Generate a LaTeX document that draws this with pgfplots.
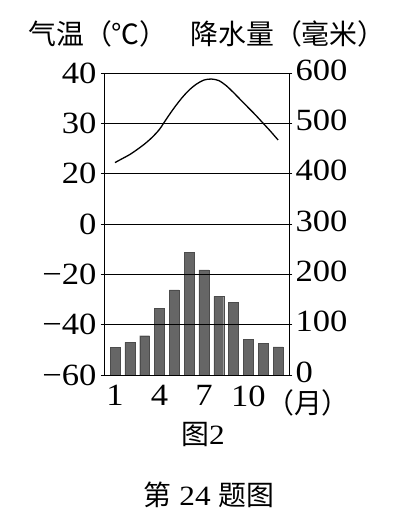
\documentclass[border=0pt]{standalone}
\usepackage{fontspec}
\setmainfont{Liberation Serif}[FakeStretch=1.12]
\newfontfamily\cjk{Noto Sans CJK SC}
\usepackage{pgfplots}
\pgfplotsset{compat=1.18}
\begin{document}
\begin{tikzpicture}
\useasboundingbox (-104bp,-148bp) rectangle (292bp,375bp);
\begin{axis}[at={(0bp,0bp)}, anchor=south west, width=185bp, height=302bp, scale only axis,
  xmin=0.26, xmax=12.74, ymin=0, ymax=600,
  axis on top,
  ytick={0,100,...,600}, yticklabels={−60,−40,−20,0,20,30,40},
  ymajorgrids, grid style={black, line width=0.7bp},
  xtick={1,4,7,10}, xticklabels={1,4,7,10},
  major tick length=3bp, tick align=outside,
  xtick style={draw=none},
  ticklabel style={font=\fontsize{31}{31}\selectfont},
  xticklabel style={yshift=-4bp},
  yticklabel style={xshift=-1bp},
  axis line style={line width=0.8bp},
  tick style={line width=0.7bp, black},
]
\addplot[ybar, bar width=0.67, fill=black!60, draw=black!70, line width=0.3bp]
  coordinates {(1,55) (2,65) (3,78) (4,132) (5,169) (6,244) (7,209) (8,156) (9,145) (10,71) (11,63) (12,56)};
\addplot[black, line width=1.3bp, smooth, no marks]
  coordinates {(1,422) (1.5,430) (2,438) (2.5,448) (3,459) (3.5,472) (4,488) (4.5,510) (5,531) (5.5,550) (6,566) (6.5,578) (7,586) (7.5,588) (8,585) (8.5,575) (9,561) (9.5,546) (10,531) (10.5,516) (11,500) (11.5,484) (12,467)};
\end{axis}
\begin{axis}[at={(0bp,0bp)}, anchor=south west, width=185bp, height=302bp, scale only axis,
  xmin=0.26, xmax=12.74, ymin=0, ymax=600,
  axis y line*=right, axis x line=none,
  ytick={0,100,...,600},
  major tick length=3bp, tick align=outside,
  ticklabel style={font=\fontsize{31}{31}\selectfont},
  yticklabel style={yshift=3bp},
  /pgf/number format/assume math mode=true,
  axis line style={line width=0.8bp},
  tick style={line width=0.7bp, black},
]
\addplot[draw=none] coordinates {(1,0)};
\end{axis}
\node[font=\cjk\fontsize{28}{28}\selectfont] at (-6bp,341bp) {气温（℃）};
\node[font=\cjk\fontsize{28}{28}\selectfont] at (184bp,341bp) {降水量（毫米）};
\node[font=\cjk\fontsize{28}{28}\selectfont] at (204bp,-28bp) {（月）};
\node[font=\fontsize{28}{28}\selectfont] at (99bp,-60bp) {{\cjk 图}2};
\node[font=\fontsize{28}{28}\selectfont] at (105bp,-120bp) {{\cjk 第} 24 {\cjk 题图}};
\end{tikzpicture}
\end{document}
